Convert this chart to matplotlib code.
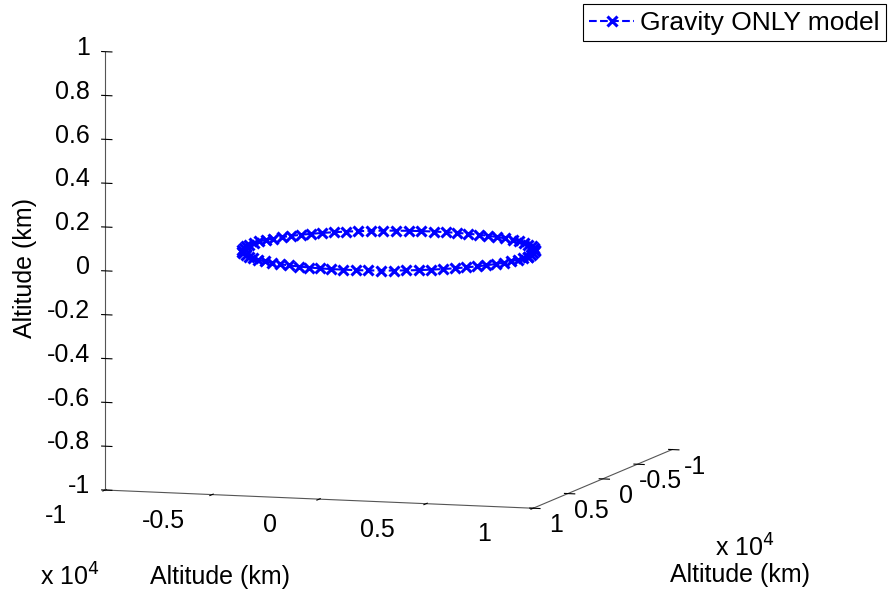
import numpy as np
import matplotlib.pyplot as plt

plt.rcParams['font.family'] = ['Liberation Sans', 'DejaVu Sans']
plt.rcParams['axes.unicode_minus'] = False

# órbita (km), un punto cada 5 grados
x_km = [6500, 6475, 6401, 6279, 6108, 5891, 5629, 5324, 4979, 4596, 4178, 3728,
        3250, 2747, 2223, 1682, 1129, 567, 0, -567, -1129, -1682, -2223, -2747,
        -3250, -3728, -4178, -4596, -4979, -5324, -5629, -5891, -6108, -6279, -6401, -6475,
        -6500, -6475, -6401, -6279, -6108, -5891, -5629, -5324, -4979, -4596, -4178, -3728,
        -3250, -2747, -2223, -1682, -1129, -567, 0, 567, 1129, 1682, 2223, 2747,
        3250, 3728, 4178, 4596, 4979, 5324, 5629, 5891, 6108, 6279, 6401, 6475, 6500]
y_km = [0, 567, 1129, 1682, 2223, 2747, 3250, 3728, 4178, 4596, 4979, 5324,
        5629, 5891, 6108, 6279, 6401, 6475, 6500, 6475, 6401, 6279, 6108, 5891,
        5629, 5324, 4979, 4596, 4178, 3728, 3250, 2747, 2223, 1682, 1129, 567,
        0, -567, -1129, -1682, -2223, -2747, -3250, -3728, -4178, -4596, -4979, -5324,
        -5629, -5891, -6108, -6279, -6401, -6475, -6500, -6475, -6401, -6279, -6108, -5891,
        -5629, -5324, -4979, -4596, -4178, -3728, -3250, -2747, -2223, -1682, -1129, -567, 0]
z_km = [0.0] * len(x_km)

xy_ticks = [-1, -0.5, 0, 0.5, 1]
xy_labels = ['-1', '-0.5', '0', '0.5', '1']
z_ticks = [-1, -0.8, -0.6, -0.4, -0.2, 0, 0.2, 0.4, 0.6, 0.8, 1]
z_labels = ['-1', '-0.8', '-0.6', '-0.4', '-0.2', '0', '0.2', '0.4', '0.6', '0.8', '1']

fig = plt.figure(figsize=(8.91, 6.01), dpi=100)
ax = fig.add_subplot(projection='3d', proj_type='ortho')
ax.set_position([-0.073, 0.0695, 1.0, 1.0])

x = np.array(x_km) / 1e4
y = np.array(y_km) / 1e4
ln, = ax.plot(x, y, z_km, '--x', color='#0000ff', lw=1.5, ms=7, mew=2.2,
              label='Gravity ONLY model')

ax.set_xlim(-1, 1)
ax.set_ylim(1, -1)
ax.set_zlim(-1, 1)
ax.set_xticks(xy_ticks)
ax.set_yticks(xy_ticks)
ax.set_zticks(z_ticks)
ax.set_xticklabels([])
ax.set_yticklabels([])
ax.set_zticklabels([])
ax.view_init(elev=7.7, azim=-72.4)
ax.set_box_aspect((1, 1.023, 0.985), zoom=1.26)
ax.zaxis.set_ticks_position('upper')
ax.grid(False)
for a in (ax.xaxis, ax.yaxis, ax.zaxis):
    a.set_pane_color((1, 1, 1, 0))
    a.line.set_color('#555555')
    a.line.set_linewidth(0.8)

# etiquetas de las marcas, colocadas como en MATLAB
for t, s in zip(xy_ticks, xy_labels):
    ax.text(t, 1.70, -1.026, s, fontsize=18, ha='center', va='center')
    ax.text(1.109, t, -1.074, s, fontsize=18, ha='center', va='center')
for t, s in zip(z_ticks, z_labels):
    ax.text(-1.071, 1, t + 0.014, s, fontsize=18, ha='right', va='center')

fig.text(0.028, 0.554, 'Altitude (km)', rotation=90, fontsize=18, va='center', ha='center')
fig.text(0.247, 0.04, 'Altitude (km)', fontsize=18, ha='center', va='center')
fig.text(0.078, 0.04, 'x 10$^4$', fontsize=18, ha='center', va='center')
fig.text(0.83, 0.043, 'Altitude (km)', fontsize=18, ha='center', va='center')
fig.text(0.836, 0.088, 'x 10$^4$', fontsize=18, ha='center', va='center')

leg = fig.legend(handles=[ln], loc='upper right', bbox_to_anchor=(0.994, 0.993),
                 borderaxespad=0, fontsize=19, fancybox=False, edgecolor='black',
                 framealpha=1, handlelength=1.7, handletextpad=0.2, borderpad=0.25)
leg.get_frame().set_linewidth(0.8)

fig.savefig('out.png')
